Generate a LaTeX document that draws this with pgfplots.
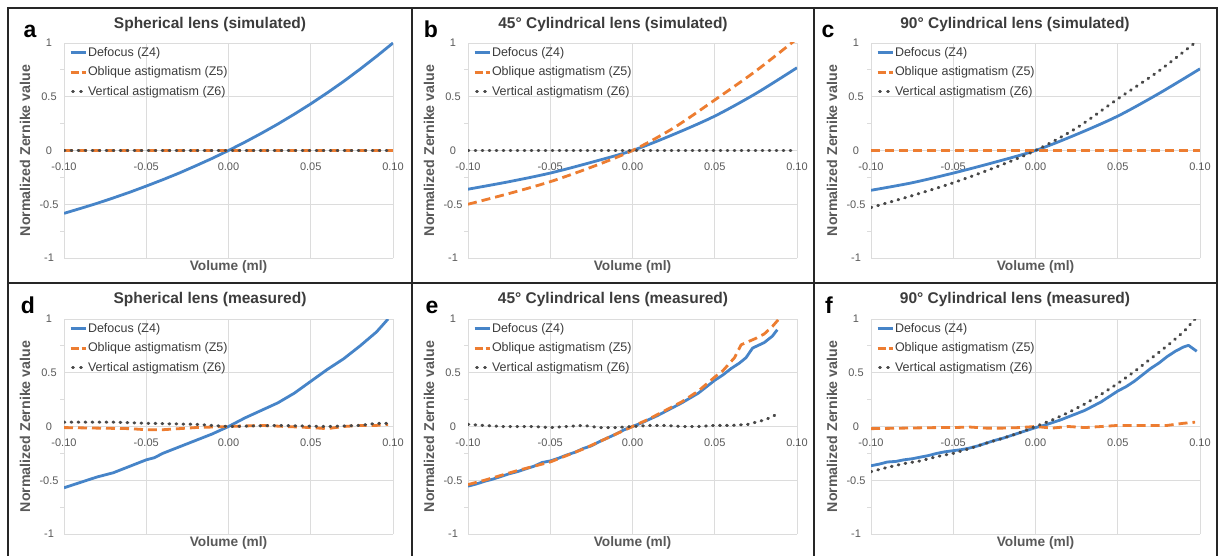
\documentclass[border=0pt]{standalone}
\usepackage{fontspec}
\setmainfont{Liberation Sans}
\usepackage{pgfplots}
\pgfplotsset{compat=1.18}
\definecolor{zblue}{RGB}{70,132,200}
\definecolor{zorange}{RGB}{237,125,49}
\definecolor{zgray}{RGB}{72,72,72}
\definecolor{gridgray}{RGB}{220,220,220}
\definecolor{tickgray}{RGB}{89,89,89}
\definecolor{titlegray}{RGB}{60,60,60}

\pgfplotsset{
  panel/.style={
    anchor=south west, scale only axis, width=329pt, height=215pt,
    xmin=-0.1, xmax=0.1, ymin=-1, ymax=1,
    axis x line=middle, axis y line=left,
    axis line style={draw=gridgray, line width=0.8pt, -},
    hide obscured x ticks=false, hide obscured y ticks=false,
    xtick={-0.1,-0.05,0,0.05,0.1}, ytick={-1,-0.5,0,0.5,1},
    minor ytick={-0.75,-0.25,0.25,0.75},
    major tick length=0pt, minor tick length=4pt, tick align=outside,
    minor tick style={draw=gridgray, line width=0.8pt},
    grid=major, major grid style={draw=gridgray, line width=0.8pt},
    /pgf/number format/assume math mode=true,
    ticklabel style={font=\fontsize{11}{12}\selectfont, text=tickgray},
    xticklabel style={anchor=center, yshift=-16pt,
      /pgf/number format/.cd, fixed, fixed zerofill, precision=2},
    yticklabel style={anchor=center, xshift=-15pt},
    xlabel={Volume (ml)},
    xlabel style={at={(axis description cs:0.5,-0.042)}, anchor=center,
      font=\bfseries\fontsize{13.7}{16}\selectfont, text=tickgray},
    ylabel={Normalized Zernike value},
    ylabel style={at={(axis description cs:-0.1185,0.5)}, anchor=center,
      font=\bfseries\fontsize{14.2}{16}\selectfont, text=tickgray},
    legend style={at={(axis description cs:0,1)}, anchor=north west,
      xshift=5pt, yshift=-2.5pt, draw=none, fill=none, inner sep=0pt,
      row sep=5.5pt, font=\fontsize{12.5}{14}\selectfont, text=titlegray,
      nodes={inner sep=1pt, text height=9.5pt, text depth=2.5pt}},
    legend cell align=left,
    legend image code/.code={\draw[##1] (0pt,0pt) -- (15pt,0pt);},
  },
  z4/.style={color=zblue, line width=2.8pt, line join=round, no markers},
  z5/.style={color=zorange, line width=2.8pt, line join=round,
    dash pattern=on 9pt off 5pt, no markers,
    legend image code/.code={\draw[##1, dash pattern=on 8pt off 3pt] (0pt,0pt) -- (15pt,0pt);}},
  z6/.style={color=zgray, line width=3pt, line cap=round,
    dash pattern=on 0.8pt off 6.2pt, no markers,
    legend image code/.code={\draw[##1, dash pattern=on 0.8pt off 7.2pt] (2pt,0pt) -- (12pt,0pt);}},
}
\newcommand{\zlegend}{\legend{Defocus (Z4),Oblique astigmatism (Z5),Vertical astigmatism (Z6)}}
\newcommand{\ttl}{\bfseries\fontsize{15.5}{18}\selectfont}
\newcommand{\lett}{\bfseries\fontsize{23}{26}\selectfont}

\begin{document}
\begin{tikzpicture}
\fill[white] (0pt,0pt) rectangle (1222pt,-556pt);

% a: spherical, simulated
\begin{axis}[panel, at={(64pt,-258pt)}]
\addplot[z4] coordinates {
  (-0.10,-0.585)(-0.09,-0.539)(-0.08,-0.492)(-0.07,-0.441)(-0.06,-0.388)
  (-0.05,-0.331)(-0.04,-0.272)(-0.03,-0.210)(-0.02,-0.143)(-0.01,-0.074)
  (0,0)(0.01,0.078)(0.02,0.160)(0.03,0.246)(0.04,0.338)(0.05,0.434)
  (0.06,0.536)(0.07,0.643)(0.08,0.757)(0.09,0.876)(0.10,1.0)};
\addplot[z5] coordinates {(-0.10,0)(0.10,0)};
\addplot[z6] coordinates {(-0.10,0)(0.10,0)};
\zlegend
\end{axis}

% b: 45 deg cylindrical, simulated
\begin{axis}[panel, at={(468pt,-258pt)}]
\addplot[z4, smooth] coordinates {
  (-0.10,-0.36)(-0.075,-0.29)(-0.05,-0.21)(-0.025,-0.11)(0,0)
  (0.025,0.15)(0.05,0.32)(0.075,0.53)(0.10,0.77)};
\addplot[z5, smooth] coordinates {
  (-0.10,-0.50)(-0.075,-0.40)(-0.05,-0.29)(-0.025,-0.155)(0,0)
  (0.025,0.21)(0.05,0.47)(0.075,0.74)(0.10,1.04)};
\addplot[z6] coordinates {(-0.10,0)(0.10,0)};
\zlegend
\end{axis}

% c: 90 deg cylindrical, simulated
\begin{axis}[panel, at={(871pt,-258pt)}]
\addplot[z4, smooth] coordinates {
  (-0.10,-0.37)(-0.075,-0.30)(-0.05,-0.21)(-0.025,-0.11)(0,0)
  (0.025,0.15)(0.05,0.32)(0.075,0.53)(0.10,0.76)};
\addplot[z5] coordinates {(-0.10,0)(0.10,0)};
\addplot[z6, smooth] coordinates {
  (-0.10,-0.53)(-0.075,-0.42)(-0.05,-0.30)(-0.025,-0.16)(0,0)
  (0.025,0.21)(0.05,0.48)(0.075,0.74)(0.10,1.04)};
\zlegend
\end{axis}

% d: spherical, measured
\begin{axis}[panel, at={(64pt,-534pt)}]
\addplot[z4] coordinates {
  (-0.10,-0.57)(-0.09,-0.52)(-0.08,-0.47)(-0.07,-0.43)(-0.06,-0.37)
  (-0.05,-0.31)(-0.045,-0.29)(-0.04,-0.25)(-0.03,-0.19)(-0.02,-0.13)
  (-0.01,-0.07)(0,0)(0.01,0.08)(0.02,0.15)(0.03,0.22)(0.04,0.31)
  (0.05,0.42)(0.06,0.53)(0.07,0.63)(0.08,0.75)(0.09,0.88)(0.097,1.0)};
\addplot[z5] coordinates {
  (-0.10,-0.01)(-0.08,-0.015)(-0.06,-0.02)(-0.05,-0.03)(-0.04,-0.03)
  (-0.02,-0.01)(0,0)(0.02,0.01)(0.035,0.0)(0.05,-0.01)(0.06,-0.02)
  (0.07,0.0)(0.08,0.01)(0.09,0.01)(0.097,0.02)};
\addplot[z6] coordinates {
  (-0.10,0.04)(-0.07,0.04)(-0.05,0.03)(-0.02,0.02)(0,0)(0.03,0.01)
  (0.06,0.0)(0.08,0.01)(0.09,0.03)(0.097,0.03)};
\zlegend
\end{axis}

% e: 45 deg cylindrical, measured
\begin{axis}[panel, at={(468pt,-534pt)}]
\addplot[z4] coordinates {
  (-0.100,-0.555)(-0.095,-0.535)(-0.09,-0.51)(-0.085,-0.49)(-0.08,-0.465)
  (-0.075,-0.44)(-0.07,-0.42)(-0.065,-0.395)(-0.06,-0.37)(-0.055,-0.335)
  (-0.05,-0.32)(-0.045,-0.295)(-0.04,-0.265)(-0.035,-0.24)(-0.03,-0.205)
  (-0.025,-0.18)(-0.02,-0.14)(-0.015,-0.105)(-0.01,-0.07)(-0.005,-0.03)
  (0,0)(0.005,0.03)(0.01,0.065)(0.015,0.10)(0.02,0.14)(0.025,0.18)
  (0.03,0.22)(0.035,0.265)(0.04,0.31)(0.045,0.37)(0.05,0.43)(0.055,0.48)
  (0.06,0.54)(0.065,0.59)(0.069,0.64)(0.073,0.73)(0.08,0.78)(0.085,0.84)
  (0.088,0.90)};
\addplot[z5] coordinates {
  (-0.100,-0.54)(-0.09,-0.50)(-0.08,-0.455)(-0.07,-0.41)(-0.06,-0.37)
  (-0.05,-0.33)(-0.04,-0.27)(-0.03,-0.21)(-0.02,-0.14)(-0.01,-0.07)
  (0,0)(0.01,0.07)(0.02,0.15)(0.03,0.23)(0.04,0.33)(0.05,0.46)
  (0.055,0.52)(0.062,0.64)(0.066,0.76)(0.075,0.82)(0.08,0.86)
  (0.085,0.93)(0.089,1.0)};
\addplot[z6] coordinates {
  (-0.10,0.02)(-0.09,0.01)(-0.08,0.0)(-0.07,0.0)(-0.06,0.0)(-0.05,-0.01)
  (-0.04,0.0)(-0.03,0.01)(-0.02,-0.01)(-0.01,-0.01)(0,0)(0.01,0.01)
  (0.02,0.01)(0.03,0.0)(0.04,0.0)(0.05,0.01)(0.06,0.01)(0.07,0.02)
  (0.075,0.04)(0.08,0.06)(0.085,0.09)(0.088,0.12)};
\zlegend
\end{axis}

% f: 90 deg cylindrical, measured
\begin{axis}[panel, at={(871pt,-534pt)}]
\addplot[z4] coordinates {
  (-0.10,-0.365)(-0.095,-0.35)(-0.09,-0.33)(-0.085,-0.325)(-0.08,-0.31)
  (-0.075,-0.30)(-0.07,-0.285)(-0.065,-0.27)(-0.06,-0.25)(-0.055,-0.235)
  (-0.05,-0.225)(-0.045,-0.215)(-0.04,-0.20)(-0.035,-0.18)(-0.03,-0.155)
  (-0.025,-0.13)(-0.02,-0.11)(-0.015,-0.085)(-0.01,-0.06)(-0.005,-0.035)
  (0,-0.01)(0.005,0.01)(0.01,0.035)(0.015,0.06)(0.02,0.09)(0.025,0.12)
  (0.03,0.15)(0.035,0.19)(0.04,0.23)(0.045,0.28)(0.05,0.33)(0.055,0.37)
  (0.06,0.42)(0.065,0.48)(0.07,0.54)(0.075,0.59)(0.08,0.65)(0.085,0.70)
  (0.09,0.74)(0.093,0.755)(0.098,0.70)};
\addplot[z5] coordinates {
  (-0.10,-0.02)(-0.08,-0.015)(-0.06,-0.01)(-0.05,-0.01)(-0.04,-0.005)
  (-0.03,-0.015)(-0.02,-0.015)(-0.01,-0.01)(0,0)(0.01,-0.015)(0.02,0.0)
  (0.03,-0.01)(0.04,0.0)(0.05,0.01)(0.06,0.01)(0.07,0.01)(0.08,0.01)
  (0.09,0.03)(0.097,0.04)};
\addplot[z6] coordinates {
  (-0.10,-0.42)(-0.09,-0.38)(-0.08,-0.345)(-0.07,-0.32)(-0.06,-0.28)
  (-0.05,-0.25)(-0.04,-0.205)(-0.03,-0.155)(-0.02,-0.11)(-0.01,-0.06)
  (0,0)(0.01,0.06)(0.02,0.13)(0.03,0.21)(0.04,0.30)(0.05,0.40)
  (0.06,0.51)(0.07,0.63)(0.08,0.75)(0.09,0.88)(0.097,1.0)};
\zlegend
\end{axis}

% titles and panel letters
\node[font=\ttl, text=titlegray] at (210pt,-24pt) {Spherical lens (simulated)};
\node[font=\ttl, text=titlegray] at (613pt,-24pt) {45° Cylindrical lens (simulated)};
\node[font=\ttl, text=titlegray] at (1015pt,-24pt) {90° Cylindrical lens (simulated)};
\node[font=\ttl, text=titlegray] at (210pt,-299pt) {Spherical lens (measured)};
\node[font=\ttl, text=titlegray] at (613pt,-299pt) {45° Cylindrical lens (measured)};
\node[font=\ttl, text=titlegray] at (1015pt,-299pt) {90° Cylindrical lens (measured)};
\node[font=\lett, anchor=base] at (30pt,-38pt) {a};
\node[font=\lett, anchor=base] at (431pt,-38pt) {b};
\node[font=\lett, anchor=base] at (828pt,-38pt) {c};
\node[font=\lett, anchor=base] at (28pt,-313pt) {d};
\node[font=\lett, anchor=base] at (432pt,-313pt) {e};
\node[font=\lett, anchor=base] at (829pt,-313pt) {f};

% panel frames
\draw[line width=2pt, black!85] (8pt,-8pt) rectangle (1217pt,-558pt);
\draw[line width=2pt, black!85] (412pt,-8pt) -- (412pt,-558pt);
\draw[line width=2pt, black!85] (814pt,-8pt) -- (814pt,-558pt);
\draw[line width=2pt, black!85] (8pt,-283pt) -- (1217pt,-283pt);

\pgfresetboundingbox
\useasboundingbox (0pt,0pt) rectangle (1222pt,-556pt);
\end{tikzpicture}
\end{document}
